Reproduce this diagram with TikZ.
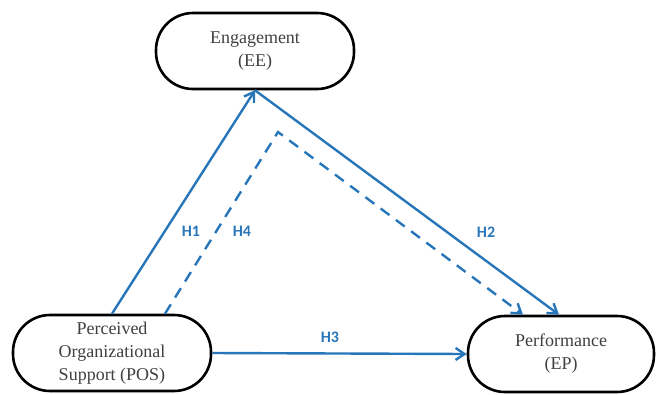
\documentclass[tikz,border=0pt]{standalone}
\usepackage{fontspec}
\setmainfont{Liberation Serif}
\newfontfamily\boxfont{Liberation Serif}
\newfontfamily\labelfont{Carlito}
\usepackage{xcolor}
\usepackage{tikz}
\usetikzlibrary{arrows.meta}
\definecolor{pathblue}{RGB}{40,118,186}
\definecolor{boxtext}{RGB}{64,64,64}
\tikzset{
  construct/.style={draw=black, line width=2.6pt, fill=white, rounded corners=37pt,
    minimum height=76pt, align=center, text=boxtext,
    font=\boxfont\fontsize{18}{23}\selectfont},
  hpath/.style={draw=pathblue, line width=2.4pt, -{Straight Barb[length=9pt,width=12pt,line width=2.4pt]}},
  hlabel/.style={text=pathblue, font=\labelfont\bfseries\fontsize{16}{18}\selectfont}
}
\begin{document}
\begin{tikzpicture}[x=1pt,y=-1pt]
\useasboundingbox (0,0) rectangle (656,394);
% constructs
\node[construct, minimum width=198pt] (ee) at (255,51) {Engagement\\(EE)};
\node[construct, minimum width=198pt] (pos) at (112,353) {Perceived\\Organizational\\Support (POS)};
\node[construct, minimum width=186pt] (ep) at (561,354) {Performance\\(EP)};
\coordinate (bend) at (278,132);
% hypotheses
\draw[hpath] (pos.north) -- (ee.south);
\draw[hpath] (ee.south) -- ([xshift=-2pt]ep.north);
\draw[hpath, dash pattern=on 11pt off 8pt] ([xshift=53pt]pos.north) -- (bend) -- ([xshift=-38pt]ep.north);
\draw[hpath] (pos.east) -- (ep.west);
\node[hlabel] (h1) at (191,231) {H1};
\node[hlabel] (h4) at (242,231) {H4};
\node[hlabel] (h2) at (486,232) {H2};
\node[hlabel] (h3) at (330,337) {H3};
\end{tikzpicture}
\end{document}
